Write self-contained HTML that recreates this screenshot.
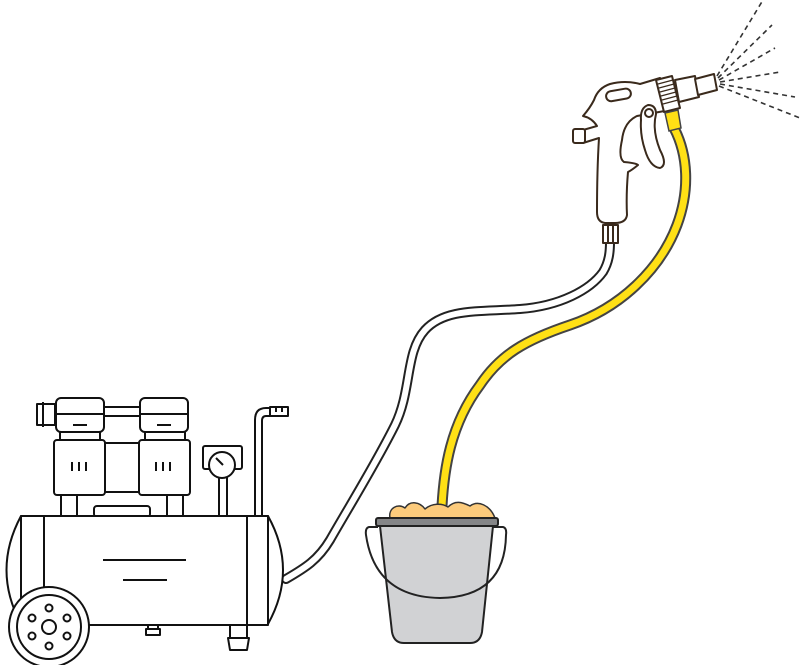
<!DOCTYPE html>
<html><head><meta charset="utf-8"><style>html,body{margin:0;padding:0;background:#fff}svg{display:block}</style></head>
<body>
<svg width="800" height="665" viewBox="0 0 800 665" xmlns="http://www.w3.org/2000/svg">
<g fill="none" stroke-linecap="round" stroke-linejoin="round">
<path d="M286,579 C305,568 318,560 330,540 C350,505 375,465 395,425 C412,390 405,352 425,330 C445,308 480,312 520,309 C560,306 590,290 603,272 C609,262 610,252 610,242" stroke="#222" stroke-width="10"/>
<path d="M286,579 C305,568 318,560 330,540 C350,505 375,465 395,425 C412,390 405,352 425,330 C445,308 480,312 520,309 C560,306 590,290 603,272 C609,262 610,252 610,242" stroke="#fff" stroke-width="6"/>
<path d="M442,506 C444,470 450,425 480,385 C500,355 525,340 570,325 C620,308 660,270 677,225 C690,190 688,155 674,128" stroke="#444" stroke-width="11"/>
<path d="M442,506 C444,470 450,425 480,385 C500,355 525,340 570,325 C620,308 660,270 677,225 C690,190 688,155 674,128" stroke="#ffe015" stroke-width="7"/>
</g>
<g stroke="#222" stroke-width="2" stroke-linejoin="round">
<path d="M390,518 C388,508 398,503 405,508 C410,500 420,502 425,509 C432,503 442,503 448,507 C455,500 462,502 470,506 C478,500 490,505 495,518 Z" fill="#fccb7c" stroke="#333" stroke-width="1.5"/>
<path d="M380,526 L493,526 L482,632 Q480,643 470,643 L404,643 Q394,643 392,632 Z" fill="#d1d2d4"/>
<rect x="376" y="518" width="122" height="8" rx="2" fill="#858688"/>
<path d="M378,527 L369,527 Q365,528 366,535 Q375,597 440,598 Q505,597 506,535 Q507,528 503,527 L493,527" fill="none"/>
</g>
<g fill="#fff" stroke="#111" stroke-width="2" stroke-linejoin="round">
<path d="M255,516 L255,420 Q255,408 266,408 L272,408 L272,416 L266,416 Q262,416 262,421 L262,516" />
<rect x="270" y="407" width="18" height="9"/>
<line x1="276" y1="407" x2="276" y2="412"/><line x1="282" y1="407" x2="282" y2="412"/>
<rect x="219" y="476" width="8" height="40"/>
<rect x="203" y="446" width="39" height="23" rx="2"/>
<circle cx="222" cy="465" r="13"/>
<line x1="216" y1="458" x2="223" y2="465" stroke-width="2"/>
<line x1="37" y1="407" x2="188" y2="407"/><line x1="37" y1="416" x2="188" y2="416"/>
<rect x="37" y="404" width="18" height="21"/>
<line x1="43" y1="402" x2="43" y2="427"/>
<rect x="61" y="495" width="16" height="22"/><rect x="167" y="495" width="16" height="22"/>
<rect x="94" y="506" width="56" height="11" rx="3"/>
<rect x="60" y="431" width="40" height="10"/><rect x="145" y="431" width="40" height="10"/>
<rect x="56" y="398" width="48" height="34" rx="5"/><rect x="140" y="398" width="48" height="34" rx="5"/>
<line x1="56" y1="414" x2="104" y2="414"/><line x1="140" y1="414" x2="188" y2="414"/>
<line x1="73" y1="425" x2="87" y2="425"/><line x1="157" y1="425" x2="171" y2="425"/>
<rect x="104" y="443" width="36" height="49"/>
<rect x="54" y="440" width="51" height="55" rx="3"/><rect x="139" y="440" width="51" height="55" rx="3"/>
<g stroke-width="2"><line x1="72" y1="462" x2="72" y2="471"/><line x1="79" y1="462" x2="79" y2="471"/><line x1="86" y1="462" x2="86" y2="471"/>
<line x1="156" y1="462" x2="156" y2="471"/><line x1="163" y1="462" x2="163" y2="471"/><line x1="170" y1="462" x2="170" y2="471"/></g>
<path d="M21,516 Q-8,570 21,624 Z"/><path d="M268,516 Q298,570 268,624 Z"/>
<rect x="21" y="516" width="247" height="109"/>
<line x1="44" y1="516" x2="44" y2="625"/><line x1="247" y1="516" x2="247" y2="625"/>
<line x1="103" y1="560" x2="186" y2="560"/><line x1="123" y1="580" x2="167" y2="580"/>
<rect x="148" y="625" width="10" height="4"/><rect x="146" y="629" width="14" height="6"/>
<rect x="230" y="625" width="17" height="13"/><path d="M228,638 L249,638 L247,650 L230,650 Z"/>
<circle cx="49" cy="627" r="40"/><circle cx="49" cy="627" r="32"/>
<circle cx="49" cy="627" r="7"/>
<circle cx="49" cy="608" r="3.5"/><circle cx="32" cy="618" r="3.5"/><circle cx="67" cy="618" r="3.5"/>
<circle cx="32" cy="636" r="3.5"/><circle cx="67" cy="636" r="3.5"/><circle cx="49" cy="646" r="3.5"/>
</g>
<g stroke="#333" stroke-width="1.6" stroke-dasharray="5,4" fill="none">
<line x1="717" y1="76" x2="763" y2="0"/><line x1="718" y1="78" x2="772" y2="25"/>
<line x1="719" y1="80" x2="775" y2="48"/><line x1="720" y1="82" x2="780" y2="72"/>
<line x1="720" y1="84" x2="795" y2="97"/><line x1="719" y1="86" x2="800" y2="118"/>
</g>
<g stroke="#3a2a1c" stroke-width="2" fill="#fff" stroke-linejoin="round">
<rect x="603" y="225" width="15" height="18"/>
<line x1="608" y1="225" x2="608" y2="243"/><line x1="613" y1="225" x2="613" y2="243"/>
<path d="M583,130 L597,126 Q592,118 583,116 Q590,108 594,100 Q598,88 610,84 Q625,80 640,84 L660,78 L670,110 L637,116 Q624,122 622,140 Q618,158 624,162 Q636,163 638,165 Q632,170 628,172 Q626,195 627,215 Q626,223 615,223 L605,223 Q597,222 597,212 Q597,170 599,138 L583,143 Z"/>
<rect x="573" y="129" width="12" height="14" rx="2"/>
<rect x="606" y="90" width="25" height="10" rx="5" transform="rotate(-10 618 95)"/>
<path d="M641,120 Q640,108 648,105 Q656,105 656,114 Q652,130 660,150 Q668,165 660,168 Q650,167 645,150 Q640,135 641,120 Z"/>
<circle cx="649" cy="113" r="4"/>
<path d="M675,80 L695,76 L699,97 L679,102 Z"/>
<path d="M695,79 L714,74 L717,90 L698,95 Z"/>
<path d="M656,80 L672,76 L680,108 L664,112 Z"/>
<g stroke-width="1.2">
<line x1="658" y1="84" x2="673" y2="80"/><line x1="659" y1="88" x2="674" y2="84"/><line x1="660" y1="92" x2="675" y2="88"/>
<line x1="661" y1="96" x2="676" y2="92"/><line x1="662" y1="100" x2="677" y2="96"/><line x1="663" y1="104" x2="678" y2="100"/>
</g>
</g>
<path d="M665,113 L678,110 L681,128 L669,131 Z" fill="#ffe015" stroke="#444" stroke-width="1.5"/>
</svg>
</body></html>
